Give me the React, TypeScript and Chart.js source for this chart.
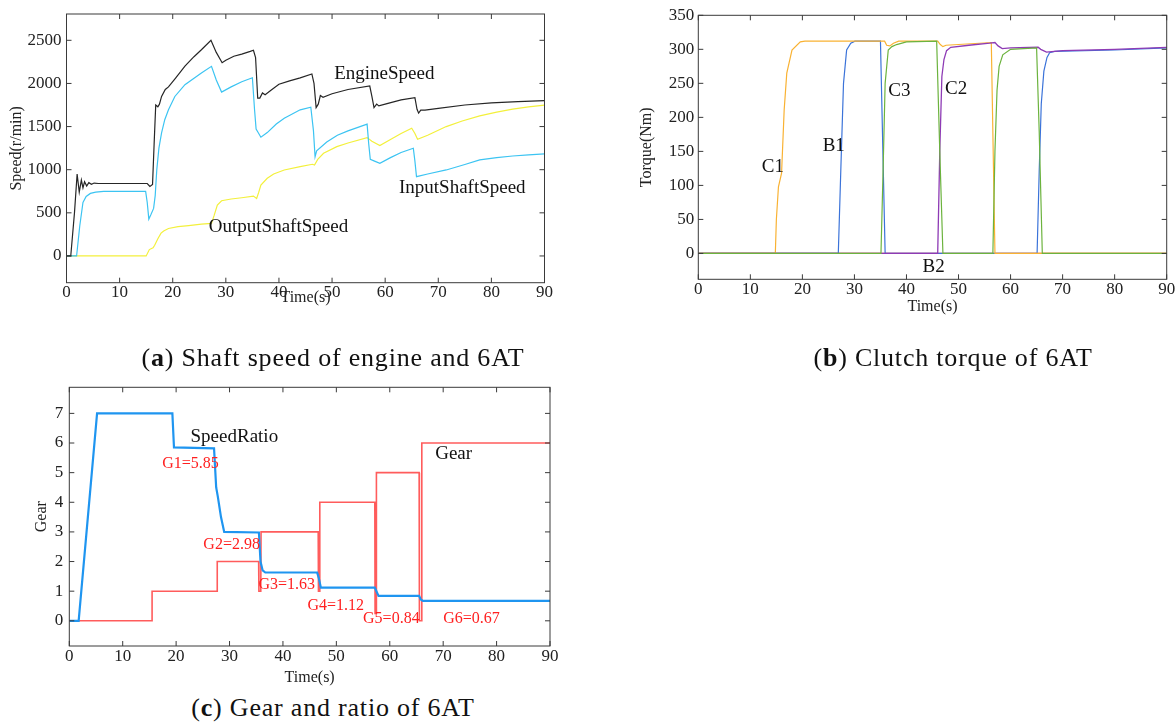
import React, { useEffect, useRef } from "react";
import { Chart, registerables } from "chart.js";

Chart.register(...registerables);

// ---------------- tick labels ----------------
const timeTicks = [0, 10, 20, 30, 40, 50, 60, 70, 80, 90];
const speedTicks = [0, 500, 1000, 1500, 2000, 2500];
const torqueTicks = [0, 50, 100, 150, 200, 250, 300, 350];
const gearTicks = [0, 1, 2, 3, 4, 5, 6, 7];

// ---------------- (a) shaft speeds: [time s, speed r/min] ----------------
const engineSpeed: [number, number][] = [
  [0, 0], [0.8, 0], [1.5, 500], [2.0, 950], [2.4, 740], [2.8, 880], [3.1, 790], [3.4, 860], [3.8, 810],
  [4.2, 850], [4.7, 830], [5.2, 845], [6, 840], [15.2, 840], [15.7, 805], [16.2, 830], [16.5, 1300],
  [16.8, 1750], [17.2, 1730], [17.5, 1760], [17.9, 1850], [18.6, 1930], [19.2, 1960], [20.5, 2060],
  [22.3, 2200], [24, 2310], [25.4, 2390], [27.2, 2500], [28.2, 2360], [29.3, 2240], [30, 2270],
  [31.5, 2315], [33, 2340], [34.6, 2372], [35.2, 2385], [35.6, 2300], [36.0, 1830], [36.4, 1830],
  [36.9, 1890], [37.4, 1870], [38.5, 1920], [40, 1990], [42, 2030], [44, 2065], [46.2, 2110],
  [46.6, 2000], [47.0, 1720], [47.4, 1760], [47.8, 1860], [48.3, 1840], [50, 1880], [53, 1930],
  [57.1, 1970], [57.5, 1850], [57.9, 1720], [58.4, 1760], [58.8, 1740], [60, 1760], [63, 1810],
  [65.6, 1835], [66.0, 1700], [66.3, 1656], [66.7, 1690], [67.5, 1690], [70, 1710], [75, 1750],
  [80, 1775], [85, 1790], [90, 1800],
];
const inputShaftSpeed: [number, number][] = [
  [0, 0], [1.9, 0], [2.5, 350], [3.1, 620], [3.7, 690], [4.5, 725], [5.5, 740], [7, 748], [14.9, 748],
  [15.2, 620], [15.5, 427], [15.9, 480], [16.4, 551], [16.7, 700], [17.0, 1000], [17.4, 1250],
  [17.9, 1426], [18.5, 1580], [19.2, 1694], [20.4, 1849], [22.3, 1985], [25.4, 2121], [27.3, 2198],
  [28.2, 2040], [29.2, 1900], [31, 1960], [33, 2020], [35.0, 2066], [35.4, 1700], [35.7, 1470],
  [36.0, 1440], [36.6, 1377], [37.8, 1430], [39.5, 1530], [41, 1597], [44, 1694], [46.0, 1725],
  [46.5, 1450], [46.8, 1151], [47.1, 1220], [49, 1320], [51, 1400], [53, 1450], [56.6, 1528],
  [56.9, 1300], [57.2, 1121], [58, 1100], [59, 1074], [61, 1140], [63, 1200], [65.3, 1249],
  [65.6, 1100], [65.9, 919], [68, 950], [71.5, 997], [75, 1060], [77.8, 1113], [81, 1140],
  [84, 1159], [87, 1172], [90, 1183],
];
const outputShaftSpeed: [number, number][] = [
  [0, 0], [15.0, 0], [15.6, 74], [16.3, 95], [16.6, 124], [17.2, 200], [17.8, 265], [18.3, 290],
  [19.2, 318], [21, 340], [23, 352], [25.4, 368], [27.3, 378], [27.8, 470], [28.4, 590], [29.2, 640],
  [31, 660], [33, 675], [35.2, 694], [35.8, 667], [36.2, 740], [36.6, 822], [37.8, 900], [39, 950],
  [41, 997], [44, 1035], [46.3, 1063], [46.7, 1055], [47.3, 1120], [48.4, 1190], [50.9, 1267],
  [53, 1310], [56.6, 1372], [57.5, 1330], [59, 1279], [61, 1350], [63, 1420], [65, 1481],
  [65.6, 1420], [66.1, 1353], [68, 1400], [71.5, 1500], [74.5, 1565], [77.8, 1624], [81, 1668],
  [84, 1702], [87, 1728], [90, 1749],
];

// ---------------- (b) clutch torques: [time s, torque Nm] ----------------
const c1Torque: [number, number][] = [
  [0, 0], [14.8, 0], [15.0, 50], [15.4, 98], [16.0, 118], [16.5, 211], [17.0, 265], [18.0, 299],
  [19.6, 311], [20.5, 312], [35.8, 312], [36.2, 306], [36.8, 305], [37.5, 309], [38.5, 312],
  [46.0, 312], [46.5, 307], [47.0, 304], [47.6, 306], [56.3, 310], [57.0, 0], [90, 0],
];
const b1Torque: [number, number][] = [
  [0, 0], [26.9, 0], [27.4, 127], [27.9, 250], [28.5, 299], [29.3, 309], [30.1, 312], [35.0, 312],
  [35.9, 0], [65.1, 0], [65.5, 120], [65.9, 220], [66.4, 268], [67.0, 288], [67.5, 295], [68.5, 297],
  [80, 299], [90, 302],
];
const c3Torque: [number, number][] = [
  [0, 0], [35.1, 0], [35.5, 120], [35.9, 250], [36.5, 299], [37.2, 304], [38.1, 307], [40, 311],
  [45.8, 312], [46.4, 150], [47.0, 0], [56.6, 0], [57.0, 150], [57.4, 240], [57.8, 275], [58.5, 292],
  [60, 300], [65.0, 302], [65.5, 180], [66.1, 0], [90, 0],
];
const c2Torque: [number, number][] = [
  [0, 0], [46.0, 0], [46.4, 150], [46.8, 260], [47.2, 285], [47.7, 298], [48.5, 303], [52, 306],
  [56, 309], [57.0, 310], [57.6, 305], [58.4, 301], [60, 302], [65.3, 303], [65.8, 300], [66.9, 296],
  [70, 298], [80, 300], [90, 303],
];
const b2Torque: [number, number][] = [[0, 0], [90, 0]];

// ---------------- (c) speed ratio and gear: [time s, value] ----------------
const speedRatio: [number, number][] = [
  [0, 0], [1.75, 0], [5.2, 7], [19.3, 7], [19.6, 5.85], [27.1, 5.82], [27.5, 4.5], [27.8, 4.2],
  [28.4, 3.5], [29.0, 3.0], [35.5, 2.98], [35.8, 2.0], [36.2, 1.7], [36.7, 1.63], [46.4, 1.63],
  [46.7, 1.45], [47.1, 1.12], [57.2, 1.12], [57.5, 1.0], [57.9, 0.84], [65.5, 0.84], [65.8, 0.72],
  [66.2, 0.67], [90, 0.67],
];
const gear: [number, number][] = [
  [0, 0], [15.5, 0], [15.5, 1], [27.7, 1], [27.7, 2], [35.45, 2], [35.5, 1], [35.85, 1], [35.9, 3],
  [46.6, 3], [46.65, 1], [46.85, 1], [46.9, 4], [57.2, 4], [57.25, 0.25], [57.45, 0.25], [57.5, 5],
  [65.5, 5], [65.55, 0], [65.95, 0], [66.0, 6], [90, 6],
];

const SERIF = "'Liberation Serif', 'Times New Roman', Times, serif";

const toXY = (arr: [number, number][]) => arr.map(([x, y]) => ({ x, y }));

const frameTicks = {
  id: "frameTicks",
  afterDraw(chart: any, _args: any, opts: any) {
    const { ctx, chartArea: a, scales } = chart;
    const L = 5;
    ctx.save();
    ctx.strokeStyle = "#3a3a3a";
    ctx.lineWidth = 1;
    ctx.strokeRect(a.left, a.top, a.right - a.left, a.bottom - a.top);
    ctx.beginPath();
    for (const t of scales.x.ticks) {
      const px = scales.x.getPixelForValue(t.value);
      ctx.moveTo(px, a.bottom);
      ctx.lineTo(px, a.bottom - L);
      ctx.moveTo(px, a.top);
      ctx.lineTo(px, a.top + L);
    }
    for (const t of scales.y.ticks) {
      const py = scales.y.getPixelForValue(t.value);
      ctx.moveTo(a.left, py);
      ctx.lineTo(a.left + L, py);
      ctx.moveTo(a.right, py);
      ctx.lineTo(a.right - L, py);
    }
    ctx.stroke();
    const notes = (opts && opts.notes) || [];
    ctx.textAlign = "left";
    ctx.textBaseline = "middle";
    for (const n of notes) {
      ctx.font = `${n.size}px ${SERIF}`;
      ctx.fillStyle = n.color;
      ctx.fillText(n.text, scales.x.getPixelForValue(n.x), scales.y.getPixelForValue(n.y));
    }
    ctx.restore();
  },
};

function axis(
  min: number,
  max: number,
  tickVals: number[],
  isX: boolean,
  fitSize: number,
  labelPad: number,
  title: string,
  titlePad: any
) {
  return {
    type: "linear",
    min,
    max,
    grid: { display: false, drawTicks: false },
    border: { display: false },
    afterBuildTicks: (s: any) => {
      s.ticks = tickVals.map((v) => ({ value: v }));
    },
    afterFit: (s: any) => {
      if (isX) s.height = fitSize;
      else s.width = fitSize;
      s.paddingLeft = 0;
      s.paddingRight = 0;
      s.paddingTop = 0;
      s.paddingBottom = 0;
    },
    ticks: {
      padding: labelPad,
      autoSkip: false,
      maxRotation: 0,
      minRotation: 0,
      color: "#222",
      font: { family: SERIF, size: 17 },
      callback: (v: any) => String(v),
    },
    title: {
      display: true,
      text: title,
      color: "#222",
      font: { family: SERIF, size: 16 },
      padding: titlePad,
    },
  };
}

function line(label: string, data: [number, number][], color: string, width: number) {
  return {
    label,
    data: toXY(data),
    borderColor: color,
    backgroundColor: color,
    borderWidth: width,
    pointRadius: 0,
    tension: 0,
    fill: false,
  };
}

function baseOptions(padding: any, xAxis: any, yAxis: any, notes: any[]) {
  return {
    responsive: false,
    maintainAspectRatio: false,
    animation: false,
    events: [],
    parsing: false,
    layout: { padding },
    plugins: {
      legend: { display: false },
      tooltip: { enabled: false },
      frameTicks: { notes },
    },
    scales: { x: xAxis, y: yAxis },
  };
}

const configA = () => ({
  type: "line",
  data: {
    datasets: [
      line("EngineSpeed", engineSpeed, "#262626", 1.2),
      line("InputShaftSpeed", inputShaftSpeed, "#3cc4f2", 1.2),
      line("OutputShaftSpeed", outputShaftSpeed, "#f3f03c", 1.2),
    ],
  },
  options: baseOptions(
    { left: 0, top: 14, right: 15.5, bottom: 0 },
    axis(0, 90, timeTicks, true, 27.3, 0, "Time(s)", { top: 0, bottom: 2.4 }),
    axis(-310, 2805, speedTicks, false, 66.5, 5, "Speed(r/min)", { top: 7, bottom: 0 }),
    [
      { text: "EngineSpeed", x: 50.4, y: 2110, color: "#111", size: 19 },
      { text: "InputShaftSpeed", x: 62.6, y: 788, color: "#111", size: 19 },
      { text: "OutputShaftSpeed", x: 26.8, y: 336, color: "#111", size: 19 },
    ]
  ),
  plugins: [frameTicks],
});

const configB = () => ({
  type: "line",
  data: {
    datasets: [
      line("C3", c3Torque, "#6cb33e", 1.2),
      line("C2", c2Torque, "#8e3bb5", 1.3),
      line("C1", c1Torque, "#f9b233", 1.2),
      line("B1", b1Torque, "#3b73d9", 1.2),
      line("B2", b2Torque, "#e5473c", 1.2),
    ],
  },
  options: baseOptions(
    { left: 0, top: 15.3, right: 8.3, bottom: 0 },
    axis(0, 90, timeTicks, true, 40.7, 0.5, "Time(s)", { top: 0, bottom: 3.7 }),
    axis(-38, 350, torqueTicks, false, 98.3, 4, "Torque(Nm)", { top: 37, bottom: 0 }),
    [
      { text: "C1", x: 12.2, y: 127, color: "#111", size: 19 },
      { text: "B1", x: 23.9, y: 158, color: "#111", size: 19 },
      { text: "C3", x: 36.5, y: 238, color: "#111", size: 19 },
      { text: "C2", x: 47.4, y: 241, color: "#111", size: 19 },
      { text: "B2", x: 43.1, y: -20, color: "#111", size: 19 },
    ]
  ),
  plugins: [frameTicks],
});

const configC = () => ({
  type: "line",
  data: {
    datasets: [
      line("SpeedRatio", speedRatio, "#1f95f0", 2.2),
      line("Gear", gear, "#ff5c5c", 1.6),
    ],
  },
  options: baseOptions(
    { left: 0, top: 17.3, right: 20, bottom: 0 },
    axis(0, 90, timeTicks, true, 44, 0.8, "Time(s)", { top: 0, bottom: 2.4 }),
    axis(-0.85, 7.88, gearTicks, false, 69.3, 6, "Gear", { top: 32, bottom: 0 }),
    [
      { text: "SpeedRatio", x: 22.7, y: 6.21, color: "#111", size: 19 },
      { text: "Gear", x: 68.5, y: 5.63, color: "#111", size: 19 },
      { text: "G1=5.85", x: 17.4, y: 5.31, color: "#ff2020", size: 16 },
      { text: "G2=2.98", x: 25.1, y: 2.55, color: "#ff2020", size: 16 },
      { text: "G3=1.63", x: 35.4, y: 1.2, color: "#ff2020", size: 16 },
      { text: "G4=1.12", x: 44.6, y: 0.51, color: "#ff2020", size: 16 },
      { text: "G5=0.84", x: 55.0, y: 0.07, color: "#ff2020", size: 16 },
      { text: "G6=0.67", x: 70.0, y: 0.07, color: "#ff2020", size: 16 },
    ]
  ),
  plugins: [frameTicks],
});

function Panel({ make, left, top, width, height }: any) {
  const ref = useRef<HTMLCanvasElement>(null);
  useEffect(() => {
    const chart = new Chart(ref.current as HTMLCanvasElement, make());
    return () => chart.destroy();
  }, []);
  return (
    <canvas
      ref={ref}
      width={width}
      height={height}
      style={{ position: "absolute", left, top, width, height }}
    />
  );
}

function Caption({ cx, cy, letter, text }: any) {
  return (
    <div
      style={{
        position: "absolute",
        left: cx - 300,
        top: cy - 16,
        width: 600,
        height: 32,
        lineHeight: "32px",
        textAlign: "center",
        fontFamily: SERIF,
        fontSize: 26,
        letterSpacing: "0.8px",
        color: "#111",
        whiteSpace: "nowrap",
      }}
    >
      (<b>{letter}</b>) {text}
    </div>
  );
}

export default function App() {
  return (
    <div
      style={{
        position: "absolute",
        left: 0,
        top: 0,
        width: 1175,
        height: 724,
        background: "#fff",
        overflow: "hidden",
      }}
    >
      <Panel make={configA} left={0} top={0} width={560} height={310} />
      <Panel make={configB} left={600} top={0} width={575} height={320} />
      <Panel make={configC} left={0} top={370} width={570} height={320} />
      <Caption cx={333} cy={358} letter="a" text="Shaft speed of engine and 6AT" />
      <Caption cx={953} cy={358} letter="b" text="Clutch torque of 6AT" />
      <Caption cx={333} cy={708} letter="c" text="Gear and ratio of 6AT" />
    </div>
  );
}
